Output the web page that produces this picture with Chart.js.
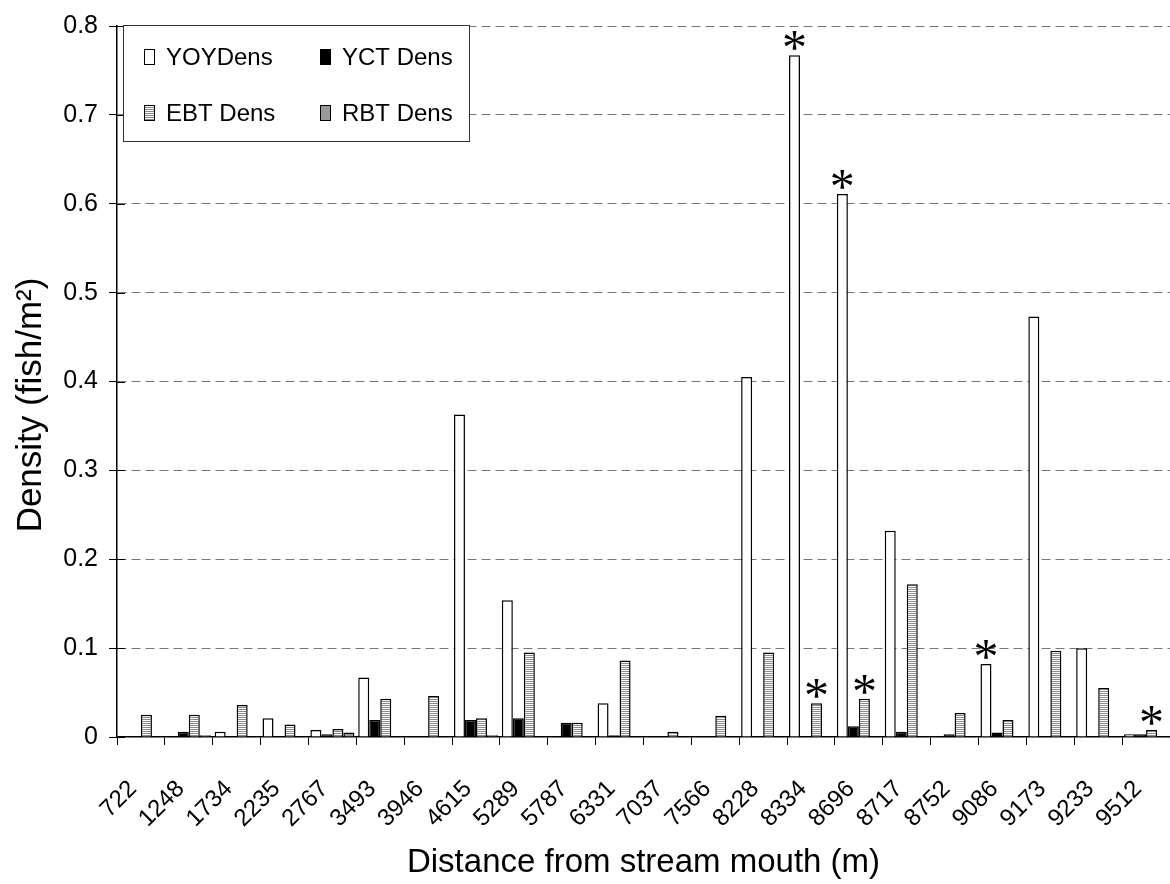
<!DOCTYPE html>
<html>
<head>
<meta charset="utf-8">
<script src="https://cdn.jsdelivr.net/npm/chart.js@4"></script>
<style>
  html, body { margin: 0; padding: 0; background: #fff; }
  canvas { display: block; }
</style>
</head>
<body>
<canvas id="chart" width="1170" height="884"></canvas>
<script>
const distances = ['722', '1248', '1734', '2235', '2767', '3493', '3946', '4615', '5289', '5787', '6331',
  '7037', '7566', '8228', '8334', '8696', '8717', '8752', '9086', '9173', '9233', '9512'];

const yoyDens = [0, 0, 0.006, 0.021, 0.008, 0.067, 0, 0.363, 0.154, 0, 0.038,
  0, 0, 0.405, 0.767, 0.611, 0.232, 0, 0.082, 0.473, 0.100, 0.003];
const yctDens = [0, 0.006, 0, 0, 0.003, 0.019, 0, 0.019, 0.021, 0.016, 0.002,
  0, 0, 0.001, 0, 0.012, 0.006, 0.003, 0.005, 0, 0, 0.003];
const ebtDens = [0.025, 0.025, 0.036, 0.014, 0.009, 0.043, 0.046, 0.021, 0.095, 0.016, 0.086,
  0.006, 0.024, 0.095, 0.038, 0.043, 0.172, 0.027, 0.019, 0.097, 0.055, 0.008];
const rbtDens = [0, 0.002, 0, 0, 0.005, 0, 0, 0.002, 0, 0, 0,
  0, 0, 0, 0, 0, 0, 0, 0, 0, 0, 0];

const yTicks = [0, 0.1, 0.2, 0.3, 0.4, 0.5, 0.6, 0.7, 0.8];

// [category index, dataset index] of bars flagged with an asterisk
const starred = [[14, 0], [14, 2], [15, 0], [15, 2], [18, 0], [21, 2]];

// horizontal hatch used for the EBT bars
function hatch() {
  const c = document.createElement('canvas');
  c.width = 4; c.height = 2;
  const g = c.getContext('2d');
  g.fillStyle = '#fff';
  g.fillRect(0, 0, 4, 2);
  g.fillStyle = '#8a8a8a';
  g.fillRect(0, 1, 4, 1);
  return g.createPattern(c, 'repeat');
}

const FONT = 'Liberation Sans, Arial, sans-serif';
const ebtFill = hatch();

const series = [
  { label: 'YOYDens', data: yoyDens, fill: '#ffffff' },
  { label: 'YCT Dens', data: yctDens, fill: '#000000' },
  { label: 'EBT Dens', data: ebtDens, fill: ebtFill },
  { label: 'RBT Dens', data: rbtDens, fill: '#999999' },
];

const extras = {
  id: 'extras',
  beforeDatasetsDraw(chart) {
    // short inward tick marks on the value axis
    const { ctx, chartArea, scales } = chart;
    ctx.save();
    ctx.strokeStyle = '#000';
    ctx.lineWidth = 1;
    yTicks.forEach(v => {
      const y = Math.round(scales.y.getPixelForValue(v)) + 0.5;
      ctx.beginPath();
      ctx.moveTo(chartArea.left, y);
      ctx.lineTo(chartArea.left + 8, y);
      ctx.stroke();
    });
    ctx.restore();
  },
  afterDatasetsDraw(chart) {
    const { ctx } = chart;
    ctx.save();
    ctx.font = '50px "Liberation Serif", "Times New Roman", serif';
    ctx.fillStyle = '#000';
    ctx.textAlign = 'center';
    ctx.textBaseline = 'alphabetic';
    const m = ctx.measureText('*');
    starred.forEach(([i, d]) => {
      const bar = chart.getDatasetMeta(d).data[i];
      ctx.fillText('*', bar.x, bar.y - 5 - m.actualBoundingBoxDescent);
    });
    ctx.restore();
  },
  afterDraw(chart) {
    const { ctx } = chart;
    ctx.save();
    // value axis title
    ctx.translate(31, 405);
    ctx.rotate(-Math.PI / 2);
    ctx.font = '35px ' + FONT;
    ctx.fillStyle = '#000';
    ctx.textAlign = 'center';
    ctx.textBaseline = 'middle';
    ctx.fillText('Density (fish/m²)', 0, 0);
    ctx.restore();

    // boxed legend in the upper left corner of the plot
    ctx.save();
    ctx.fillStyle = '#fff';
    ctx.fillRect(123, 25, 346, 116);
    ctx.strokeStyle = '#333';
    ctx.lineWidth = 1;
    ctx.strokeRect(123.5, 25.5, 346, 116);
    const cols = [144, 320];
    const rows = [49, 105];
    ctx.font = '24px ' + FONT;
    ctx.textBaseline = 'middle';
    ctx.textAlign = 'left';
    series.forEach((s, k) => {
      const x = cols[k % 2];
      const y = rows[Math.floor(k / 2)];
      ctx.fillStyle = s.fill;
      ctx.fillRect(x, y, 11, 16);
      ctx.strokeStyle = '#000';
      ctx.strokeRect(x + 0.5, y + 0.5, 10, 15);
      ctx.fillStyle = '#000';
      ctx.fillText(s.label, x + 22, y + 9);
    });
    ctx.restore();
  }
};

new Chart(document.getElementById('chart'), {
  type: 'bar',
  data: {
    labels: distances,
    datasets: series.map(s => ({
      label: s.label,
      data: s.data,
      backgroundColor: s.fill,
      borderColor: '#000',
      borderWidth: 1.5,
      categoryPercentage: 0.92,
      barPercentage: 1.0,
    })),
  },
  options: {
    responsive: false,
    animation: false,
    devicePixelRatio: 1,
    layout: { padding: { top: 24, right: 0, bottom: 0, left: 0 } },
    plugins: {
      legend: { display: false },
      tooltip: { enabled: false },
    },
    scales: {
      x: {
        offset: true,
        afterFit(scale) {
          scale.height = 147;
          scale.paddingLeft = 0;
          scale.paddingRight = 0;
        },
        grid: {
          offset: true,
          drawOnChartArea: false,
          drawTicks: true,
          tickLength: 8,
          tickColor: '#000',
          tickWidth: 1,
        },
        border: { display: true, color: '#000', width: 1.5 },
        ticks: {
          color: '#000',
          font: { family: FONT, size: 24 },
          minRotation: 45,
          maxRotation: 45,
          autoSkip: false,
          padding: 30,
          labelOffset: -8,
        },
        title: {
          display: true,
          text: 'Distance from stream mouth (m)',
          color: '#000',
          font: { family: FONT, size: 33 },
          padding: { top: 0, bottom: 1 },
        },
      },
      y: {
        min: 0,
        max: 0.8,
        afterFit(scale) { scale.width = 117; },
        afterBuildTicks(scale) { scale.ticks = yTicks.map(v => ({ value: v })); },
        grid: {
          color: c => (c.tick && c.tick.value === 0 ? 'rgba(0,0,0,0)' : '#777'),
          lineWidth: 1,
          tickLength: 8,
          tickColor: '#000',
          tickWidth: 1,
        },
        border: { display: true, color: '#000', width: 1.5, dash: [9, 5] },
        ticks: {
          color: '#000',
          font: { family: FONT, size: 25 },
          padding: 11,
          callback: v => String(v),
        },
      },
    },
  },
  plugins: [extras],
});
</script>
</body>
</html>
